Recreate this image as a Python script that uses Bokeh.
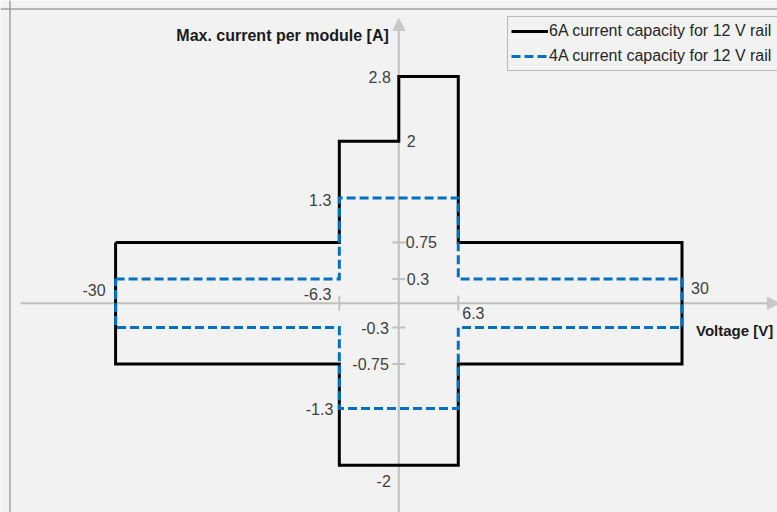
import math
from bokeh.plotting import figure
from bokeh.models import Range1d, Arrow, NormalHead, Span, ColumnDataSource
from bokeh.core.properties import value
from bokeh.embed import file_html
from bokeh.resources import INLINE

# ---- data -------------------------------------------------------------
# 6A current capacity (outline of allowed region), voltage [V] / current [A]
v_6a = [-30, -6.3, -6.3, 0, 0, 6.3, 6.3, 30, 30, 6.3, 6.3, -6.3, -6.3, -30, -30]
i_6a = [0.75, 0.75, 2, 2, 2.8, 2.8, 0.75, 0.75, -0.75, -0.75, -2, -2, -0.75, -0.75, 0.75]
# 4A current capacity
v_4a = [-30, -6.3, -6.3, 6.3, 6.3, 30, 30, 6.3, 6.3, -6.3, -6.3, -30, -30]
i_4a = [0.3, 0.3, 1.3, 1.3, 0.3, 0.3, -0.3, -0.3, -1.3, -1.3, -0.3, -0.3, 0.3]

series_names = ["6A current capacity for 12 V rail", "4A current capacity for 12 V rail"]

# tick labels
volt_ticks = [-30, -6.3, 6.3, 30]
volt_tick_labels = ["-30", "-6.3", "6.3", "30"]
current_ticks = [2.8, 2, 1.3, 0.75, 0.3, -0.3, -0.75, -1.3, -2]
current_tick_labels = ["2.8", "2", "1.3", "0.75", "0.3", "-0.3", "-0.75", "-1.3", "-2"]
# label anchor voltage for current labels (labels sit beside the step corners)
current_label_anchor_v = [0, 0, -6.3, 0, 0, 0, 0, -6.3, 0]
# small tick marks on axes
volt_marks = [-6.3, 6.3]
current_marks = [0.3, -0.3, 0.75, -0.75]

x_title = "Voltage [V]"
y_title = "Max. current per module [A]"

# ---- layout ---------------------------------------------------------
W, H = 777, 512
SX, X0 = 9.44, 398.3      # px per volt, px of V=0
SY, Y0 = 81.0, 302.7      # px per amp, px (from top) of I=0

x_range = Range1d(-X0 / SX, (W - X0) / SX)
y_range = Range1d(-(H - Y0) / SY, Y0 / SY)

p = figure(width=W, height=H, x_range=x_range, y_range=y_range,
           x_axis_type=None, y_axis_type=None, toolbar_location=None,
           output_backend="svg", min_border=0)
p.background_fill_color = "#f2f2f2"
p.border_fill_color = "#f2f2f2"
p.outline_line_color = None
p.grid.visible = False

# left and top border of the chart area
p.add_layout(Span(location=x_range.start + 9.5 / SX, dimension="height",
                  line_color="#a0a0a0", line_width=1.5))
p.add_layout(Span(location=y_range.end - 8.5 / SY, dimension="width",
                  line_color="#a0a0a0", line_width=1.5))

AX = "#c0c0c0"
# axes with arrow heads
p.add_layout(Arrow(end=NormalHead(size=12, fill_color="#c8c8c8", line_color="#c8c8c8"),
                   x_start=x_range.start + 20 / SX, y_start=0,
                   x_end=x_range.start + 779 / SX, y_end=0,
                   line_color=AX, line_width=2, level="underlay"))
p.add_layout(Arrow(end=NormalHead(size=12, fill_color="#c8c8c8", line_color="#c8c8c8"),
                   x_start=0, y_start=y_range.start - 4 / SY,
                   x_end=0, y_end=y_range.end - 18 / SY,
                   line_color=AX, line_width=2, level="underlay"))

p.scatter(x=volt_marks, y=[0] * len(volt_marks), marker="dash", angle=math.pi / 2,
          size=15, line_color=AX, line_width=2)
p.scatter(x=[0] * len(current_marks), y=current_marks, marker="dash",
          size=13, line_color=AX, line_width=2)

# series
p.line(v_6a, i_6a, line_color="black", line_width=3, line_join="miter",
       legend_label=series_names[0])
p.line(v_4a, i_4a, line_color="#0070c0", line_width=3, line_dash="9 4",
       line_join="miter", legend_label=series_names[1])

FONT_NAME = "Liberation Sans"
FONT = value(FONT_NAME)
TICK_COLOR = "#404040"

# current (y) tick labels
cur_src = ColumnDataSource(dict(
    x=current_label_anchor_v, y=current_ticks, text=current_tick_labels,
    xo=[-8, 8, -8, 7, 8, -10, -10, -6, -8],
    yo=[1, 0, 2, 0, 0, 0, 0, 0, 16],
    align=["right", "left", "right", "left", "left", "right", "right", "right", "right"],
))
p.text(x="x", y="y", text="text", x_offset="xo", y_offset="yo", text_align="align",
       text_baseline="middle", text_font=FONT, text_font_size="16px",
       text_color=TICK_COLOR, source=cur_src)

# voltage (x) tick labels
volt_src = ColumnDataSource(dict(
    x=volt_ticks, y=[0] * len(volt_ticks), text=volt_tick_labels,
    xo=[-10, -8, 4, 9], yo=[-13, -9, 10, -15],
    align=["right", "right", "left", "left"],
))
p.text(x="x", y="y", text="text", x_offset="xo", y_offset="yo", text_align="align",
       text_baseline="middle", text_font=FONT, text_font_size="16px",
       text_color=TICK_COLOR, source=volt_src)

# axis titles
p.text(x=[0], y=[y_range.end], text=[y_title], x_offset=-10, y_offset=35,
       text_align="right", text_baseline="middle", text_font=FONT,
       text_font_size="16px", text_font_style="bold", text_color="#1a1a1a")
p.text(x=[volt_ticks[-1]], y=[0], text=[x_title], x_offset=14, y_offset=27,
       text_align="left", text_baseline="middle", text_font=FONT,
       text_font_size="15px", text_font_style="bold", text_color="#1a1a1a")

# legend
lg = p.legend[0]
lg.location = (507, 441)
lg.margin = 0
lg.padding = 3
lg.spacing = 3
lg.glyph_width = 37
lg.glyph_height = 22
lg.label_height = 22
lg.label_width = 260
lg.label_standoff = 1
lg.label_text_font = FONT_NAME
lg.label_text_font_size = "16px"
lg.label_text_color = "#262626"
lg.border_line_color = "#808080"
lg.border_line_width = 1.5
lg.background_fill_color = "#f2f2f2"
lg.background_fill_alpha = 1.0

open("out.html", "w").write(file_html(p, INLINE))
